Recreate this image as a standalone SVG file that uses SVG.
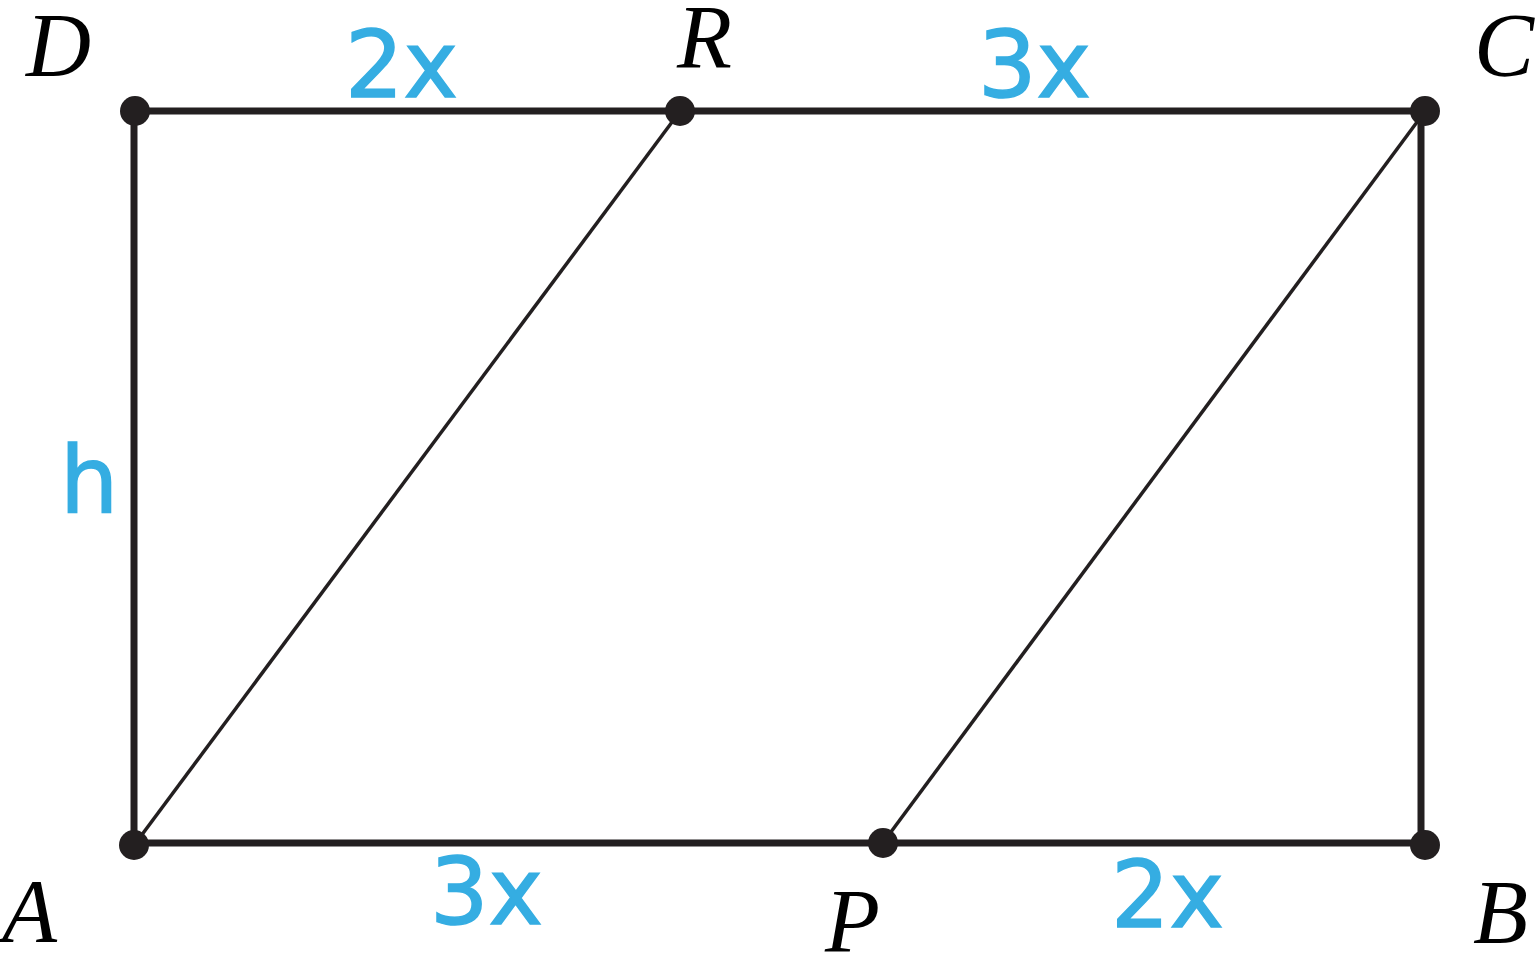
<svg xmlns="http://www.w3.org/2000/svg" width="1540" height="958" viewBox="0 0 1540 958">
<style>
.pt{font-family:"Liberation Serif","Times New Roman",serif;font-style:italic;font-size:90px;fill:#000}
.lb{font-family:"DejaVu Sans","Liberation Sans",sans-serif;font-size:92px;fill:#35ade2;stroke:#35ade2;stroke-width:1.5}
.edge{stroke:#231f20;stroke-width:7;fill:none;stroke-linecap:butt}
.diag{stroke:#231f20;stroke-width:3.5;fill:none}
.dot{fill:#231f20}
</style>
<rect width="1540" height="958" fill="#fff"/>
<g id="connectors">
<line class="edge" x1="134" y1="111" x2="1421" y2="111"/>
<line class="edge" x1="134" y1="843" x2="1421" y2="843"/>
<line class="edge" x1="134" y1="111" x2="134" y2="843"/>
<line class="edge" x1="1421" y1="111" x2="1421" y2="843"/>
<line class="diag" x1="138" y1="840" x2="678" y2="114"/>
<line class="diag" x1="885" y1="840" x2="1423" y2="114"/>
</g>
<g id="node-D"><circle class="dot" cx="135" cy="111" r="15"/><text class="pt" x="26" y="76">D</text></g>
<g id="node-R"><circle class="dot" cx="680" cy="111" r="15"/><text class="pt" x="677" y="68">R</text></g>
<g id="node-C"><circle class="dot" cx="1425" cy="111" r="15"/><text class="pt" x="1474" y="76">C</text></g>
<g id="node-A"><circle class="dot" cx="134" cy="845" r="15"/><text class="pt" x="2" y="942">A</text></g>
<g id="node-P"><circle class="dot" cx="883" cy="843" r="15"/><text class="pt" x="825" y="952">P</text></g>
<g id="node-B"><circle class="dot" cx="1425" cy="845" r="15"/><text class="pt" x="1473" y="943">B</text></g>
<g id="labels">
<text class="lb" x="345" y="97">2x</text>
<text class="lb" x="978" y="97">3x</text>
<text class="lb" x="60" y="513">h</text>
<text class="lb" x="430" y="924">3x</text>
<text class="lb" x="1111" y="927">2x</text>
</g>
</svg>
